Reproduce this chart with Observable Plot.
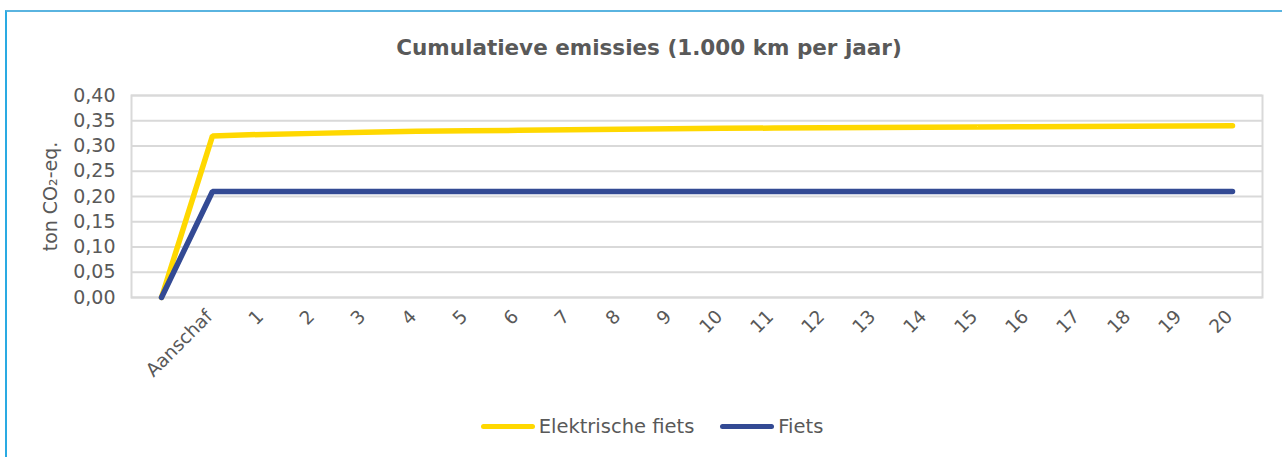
<!DOCTYPE html>
<html>
<head>
<meta charset="utf-8">
<script src="https://cdn.jsdelivr.net/npm/d3@7"></script>
<script src="https://cdn.jsdelivr.net/npm/@observablehq/plot@0.6"></script>
<style>
  html, body { margin: 0; padding: 0; background: #fff; }
  #wrap { position: relative; width: 1282px; height: 457px; overflow: hidden; font-family: "DejaVu Sans", sans-serif; color: #595959; }
  #frame { position: absolute; left: 5px; top: 10px; width: 1290px; height: 460px; border-left: 2px solid #2aaae2; border-top: 2px solid #5ab4e0; box-sizing: border-box; }
  #title { position: absolute; top: 35px; left: 0; width: 1298px; text-align: center; font-size: 21.5px; font-weight: bold; color: #595959; }
  #chart { position: absolute; left: 0; top: 0; }
  #legend { position: absolute; top: 415px; left: 0; width: 1282px; display: flex; justify-content: center; padding-left: 22px; box-sizing: border-box; font-size: 19.5px; color: #595959; }
  .item { display: flex; align-items: center; margin: 0 13px; }
  .sw { width: 54px; height: 5px; border-radius: 3px; margin-right: 4px; }
</style>
</head>
<body>
<div id="wrap">
  <div id="frame"></div>
  <div id="title">Cumulatieve emissies (1.000 km per jaar)</div>
  <div id="chart"></div>
  <div id="legend"></div>
</div>
<script>
const categories = ["", "Aanschaf", "1", "2", "3", "4", "5", "6", "7", "8", "9", "10", "11", "12", "13", "14", "15", "16", "17", "18", "19", "20"];
const elektrischeFiets = [0, 0.320, 0.323, 0.325, 0.327, 0.329, 0.330, 0.331, 0.332, 0.333, 0.334, 0.335, 0.3355, 0.336, 0.3365, 0.337, 0.3375, 0.338, 0.3385, 0.339, 0.3395, 0.340];
const fiets = [0, 0.21, 0.21, 0.21, 0.21, 0.21, 0.21, 0.21, 0.21, 0.21, 0.21, 0.21, 0.21, 0.21, 0.21, 0.21, 0.21, 0.21, 0.21, 0.21, 0.21, 0.21];
const yTicks = [0, 0.05, 0.10, 0.15, 0.20, 0.25, 0.30, 0.35, 0.40];
const seriesNames = ["Elektrische fiets", "Fiets"];
const seriesColors = ["#FFD800", "#334A94"];

const rows = [];
categories.forEach((c, i) => {
  rows.push({cat: c, value: elektrischeFiets[i], series: seriesNames[0]});
  rows.push({cat: c, value: fiets[i], series: seriesNames[1]});
});

const fmt = v => v.toFixed(2).replace(".", ",");

const plot = Plot.plot({
  width: 1282,
  height: 400,
  marginTop: 95,
  marginBottom: 103,
  marginLeft: 131,
  marginRight: 20,
  style: { fontFamily: "DejaVu Sans, sans-serif", fontSize: "18px", color: "#595959", background: "transparent" },
  x: { type: "point", domain: categories, padding: 0.5 },
  y: { domain: [0, 0.4] },
  color: { domain: seriesNames, range: seriesColors },
  marks: [
    Plot.gridY(yTicks, { stroke: "#d9d9d9", strokeOpacity: 1, strokeWidth: 2 }),
    Plot.frame({ stroke: "#d9d9d9", strokeWidth: 2 }),
    Plot.axisY(yTicks, { tickSize: 0, tickPadding: 16, tickFormat: fmt, fontSize: 19, label: "ton CO₂-eq.", labelAnchor: "center", labelArrow: "none", labelOffset: 88 }),
    Plot.axisX({ tickSize: 0, tickPadding: 16, dx: -3, tickRotate: -45, fontSize: 18.5, label: null }),
    Plot.line(rows, { x: "cat", y: "value", z: "series", stroke: "series", strokeWidth: 5.5, strokeLinecap: "round", strokeLinejoin: "miter" })
  ]
});
document.getElementById("chart").appendChild(plot);

const legend = document.getElementById("legend");
seriesNames.forEach((n, i) => {
  const it = document.createElement("div");
  it.className = "item";
  const sw = document.createElement("div");
  sw.className = "sw";
  sw.style.background = seriesColors[i];
  const t = document.createElement("span");
  t.textContent = n;
  it.appendChild(sw);
  it.appendChild(t);
  legend.appendChild(it);
});
</script>
</body>
</html>
